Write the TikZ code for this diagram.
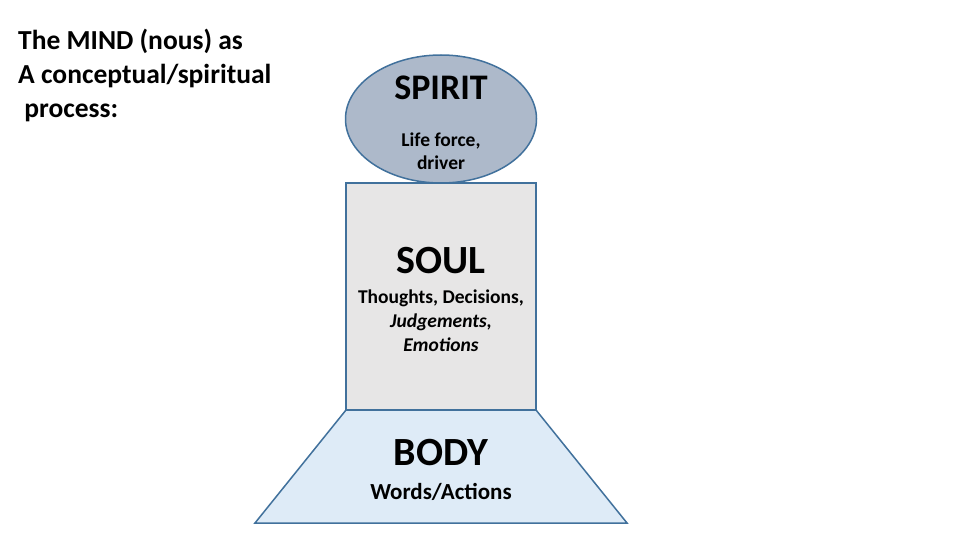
\documentclass[tikz,border=0pt]{standalone}
\usepackage{fontspec}
\setmainfont{Carlito}
\usetikzlibrary{shapes.geometric}
\definecolor{edge}{HTML}{41719C}
\definecolor{spiritfill}{HTML}{ADB9CA}
\definecolor{soulfill}{HTML}{E7E6E6}
\definecolor{bodyfill}{HTML}{DEEBF7}
\tikzset{
  shapeline/.style={draw=edge, line width=1.5pt},
  txt/.style={inner sep=0pt, anchor=base, text=black},
  title/.style={inner sep=0pt, anchor=base west, text=black, font=\bfseries\fontsize{27.5}{33}\selectfont},
  big/.style={font=\bfseries\fontsize{40}{48}\selectfont},
  small/.style={font=\bfseries\fontsize{19.5}{24}\selectfont}
}
\begin{document}
\begin{tikzpicture}[x=1pt,y=-1pt]
\useasboundingbox[fill=white] (0,0) rectangle (960,540);
% shapes
\node[ellipse, shapeline, fill=spiritfill, minimum width=191pt, minimum height=128pt, inner sep=0pt] (spirit) at (441,119) {};
\draw[shapeline, fill=bodyfill] (346,410) -- (536,410) -- (627,523) -- (255,523) -- cycle;
\node[rectangle, shapeline, fill=soulfill, minimum width=190pt, minimum height=227pt, inner sep=0pt] (soul) at (441,296.5) {};
% title
\node[title] (t1) at (18,50) {The MIND (nous) as};
\node[title] (t2) at (18,84) {A conceptual/spiritual};
\node[title] (t3) at (18,118) {\ process:};
% spirit text
\node[txt, font=\bfseries\fontsize{36}{43}\selectfont] (spiritlabel) at (441,100) {SPIRIT};
\node[txt, small] (s1) at (441,147) {Life force,};
\node[txt, small] (s2) at (441,170) {driver};
% soul text
\node[txt, big] (soullabel) at (441,273) {SOUL};
\node[txt, small] (o1) at (441,303) {Thoughts, Decisions,};
\node[txt, small] (o2) at (441,327) {\itshape Judgements,};
\node[txt, small] (o3) at (441,351) {\itshape Emotions};
% body text
\node[txt, big] (bodylabel) at (441,465) {BODY};
\node[txt, font=\bfseries\fontsize{23}{28}\selectfont] (b1) at (441,499) {Words/Actions};
\end{tikzpicture}
\end{document}
